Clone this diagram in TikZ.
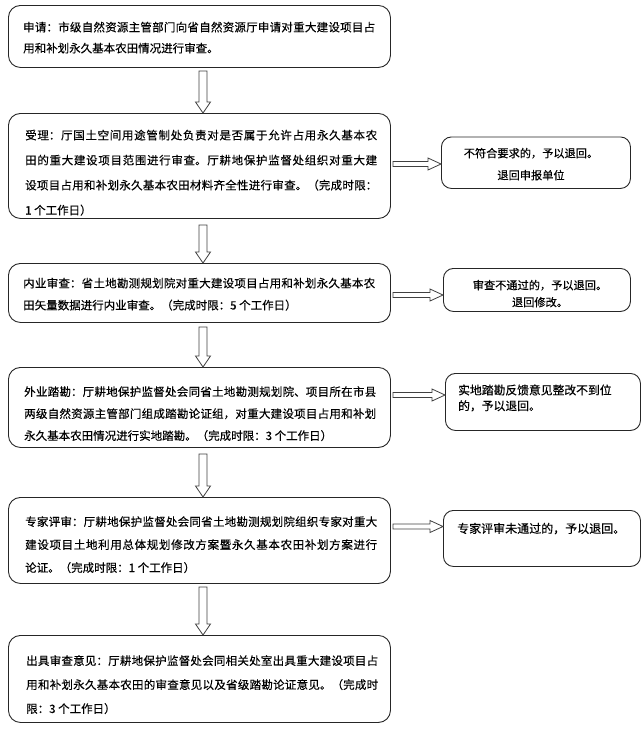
\documentclass[tikz,border=0pt]{standalone}
\usepackage{fontspec}
\setmainfont{Noto Sans CJK SC}[AutoFakeBold=2, FakeBold=0.3]
\XeTeXlinebreaklocale "zh"
\XeTeXlinebreakskip=0pt plus 2pt
\usetikzlibrary{calc}
\tikzset{
  mainbox/.style={draw=black!85, line width=0.9pt, rounded corners=12pt, anchor=north west, inner sep=0pt},
  sidebox/.style={draw=black!85, line width=0.9pt, rounded corners=10pt, anchor=north west, inner sep=0pt},
  maintext/.style={inner sep=0pt, text width=352pt, align=justify, anchor=base west},
  sidetext/.style 2 args={inner sep=0pt, font=\fontsize{#1}{#2}\selectfont},
  blockarrow/.style={draw=black!75, fill=white, line width=0.8pt, line join=miter},
}
\newcommand\vblockarrow[3]{%
  \draw[blockarrow] let \p1=(#1.south), \p2=(#2.north) in
   (199,\y1-#3) -- (207,\y1-#3) -- (207,\y2+11) -- (210.5,\y2+11) -- (203,\y2)
   -- (195.5,\y2+11) -- (199,\y2+11) -- cycle;}
\newcommand\hblockarrow[3]{%
  \draw[blockarrow] let \p1=(#1.east), \p2=(#2.west) in
   (\x1+2,#3+2.5) -- (\x2-13,#3+2.5) -- (\x2-13,#3+6) -- (\x2,#3)
   -- (\x2-13,#3-6) -- (\x2-13,#3-2.5) -- (\x1+2,#3-2.5) -- cycle;}
\begin{document}
\begin{tikzpicture}[x=1pt,y=1pt]
\useasboundingbox (0,0) rectangle (644,-729);

% main boxes
\node[mainbox, minimum width=382pt, minimum height=62pt]  (b1) at (8,-5) {};
\node[mainbox, minimum width=382pt, minimum height=105pt] (b2) at (8,-113) {};
\node[mainbox, minimum width=382pt, minimum height=59pt]  (b3) at (8,-263) {};
\node[mainbox, minimum width=382pt, minimum height=80pt]  (b4) at (8,-367) {};
\node[mainbox, minimum width=382pt, minimum height=86pt]  (b5) at (8,-497) {};
\node[mainbox, minimum width=382pt, minimum height=87pt]  (b6) at (8,-635) {};

% side boxes
\node[sidebox, minimum width=189pt, minimum height=51.5pt] (r1) at (441,-136.5) {};
\node[sidebox, minimum width=187pt, minimum height=43pt]   (r2) at (443,-268) {};
\node[sidebox, minimum width=195pt, minimum height=57pt]   (r3) at (445,-373) {};
\node[sidebox, minimum width=197pt, minimum height=56pt]   (r4) at (443,-510) {};

% main texts
\node[maintext, font=\fontsize{11.5pt}{21pt}\selectfont] (t1) at (23,-31.5)
  {申请：市级自然资源主管部门向省自然资源厅申请对重大建设项目占\linebreak 用和补划永久基本农田情况进行审查。};
\node[maintext, font=\fontsize{11.5pt}{25pt}\selectfont] (t2) at (25,-139.5)
  {受理：厅国土空间用途管制处负责对是否属于允许占用永久基本农\linebreak 田的重大建设项目范围进行审查。厅耕地保护监督处组织对重大建\linebreak 设项目占用和补划永久基本农田材料齐全性进行审查。（完成时限：\linebreak {\bfseries 1} 个工作日）};
\node[maintext, font=\fontsize{11.5pt}{22pt}\selectfont] (t3) at (23,-287.5)
  {内业审查：省土地勘测规划院对重大建设项目占用和补划永久基本农\linebreak 田矢量数据进行内业审查。（完成时限：5 个工作日）};
\node[maintext, font=\fontsize{11.5pt}{22pt}\selectfont] (t4) at (24,-396)
  {外业踏勘：厅耕地保护监督处会同省土地勘测规划院、项目所在市县\linebreak 两级自然资源主管部门组成踏勘论证组，对重大建设项目占用和补划\linebreak 永久基本农田情况进行实地踏勘。（完成时限：3 个工作日）};
\node[maintext, font=\fontsize{11.5pt}{23pt}\selectfont] (t5) at (25,-526)
  {专家评审：厅耕地保护监督处会同省土地勘测规划院组织专家对重大\linebreak 建设项目土地利用总体规划修改方案暨永久基本农田补划方案进行\linebreak 论证。（完成时限：{\bfseries 1} 个工作日）};
\node[maintext, font=\fontsize{11.5pt}{24pt}\selectfont] (t6) at (26,-665)
  {出具审查意见：厅耕地保护监督处会同相关处室出具重大建设项目占\linebreak 用和补划永久基本农田的审查意见以及省级踏勘论证意见。（完成时\linebreak 限：3 个工作日）};

% side texts
\node[sidetext={11.2pt}{22pt}, text width=189pt, align=center, anchor=base] (s1) at (531,-157.4)
  {\XeTeXlinebreakskip=0pt\relax 不符合要求的，予以退回。\\退回申报单位};
\node[sidetext={11.2pt}{17pt}, text width=187pt, align=center, anchor=base] (s2) at (540,-289.4)
  {\XeTeXlinebreakskip=0pt\relax 审查不通过的，予以退回。\\退回修改。};
\node[sidetext={11.8pt}{15.7pt}, text width=180pt, align=left, anchor=base west] (s3) at (458,-394.5)
  {实地踏勘反馈意见整改不到位\\的，予以退回。};
\node[sidetext={12pt}{15pt}, text width=180pt, align=left, anchor=base west] (s4) at (457,-533)
  {专家评审未通过的，予以退回。};

% down arrows
\vblockarrow{b1}{b2}{3}
\vblockarrow{b2}{b3}{6}
\vblockarrow{b3}{b4}{4}
\vblockarrow{b4}{b5}{6}
\vblockarrow{b5}{b6}{3}

% side arrows
\hblockarrow{b2}{r1}{-164}
\hblockarrow{b3}{r2}{-295}
\hblockarrow{b4}{r3}{-395}
\hblockarrow{b5}{r4}{-526.5}
\end{tikzpicture}
\end{document}
